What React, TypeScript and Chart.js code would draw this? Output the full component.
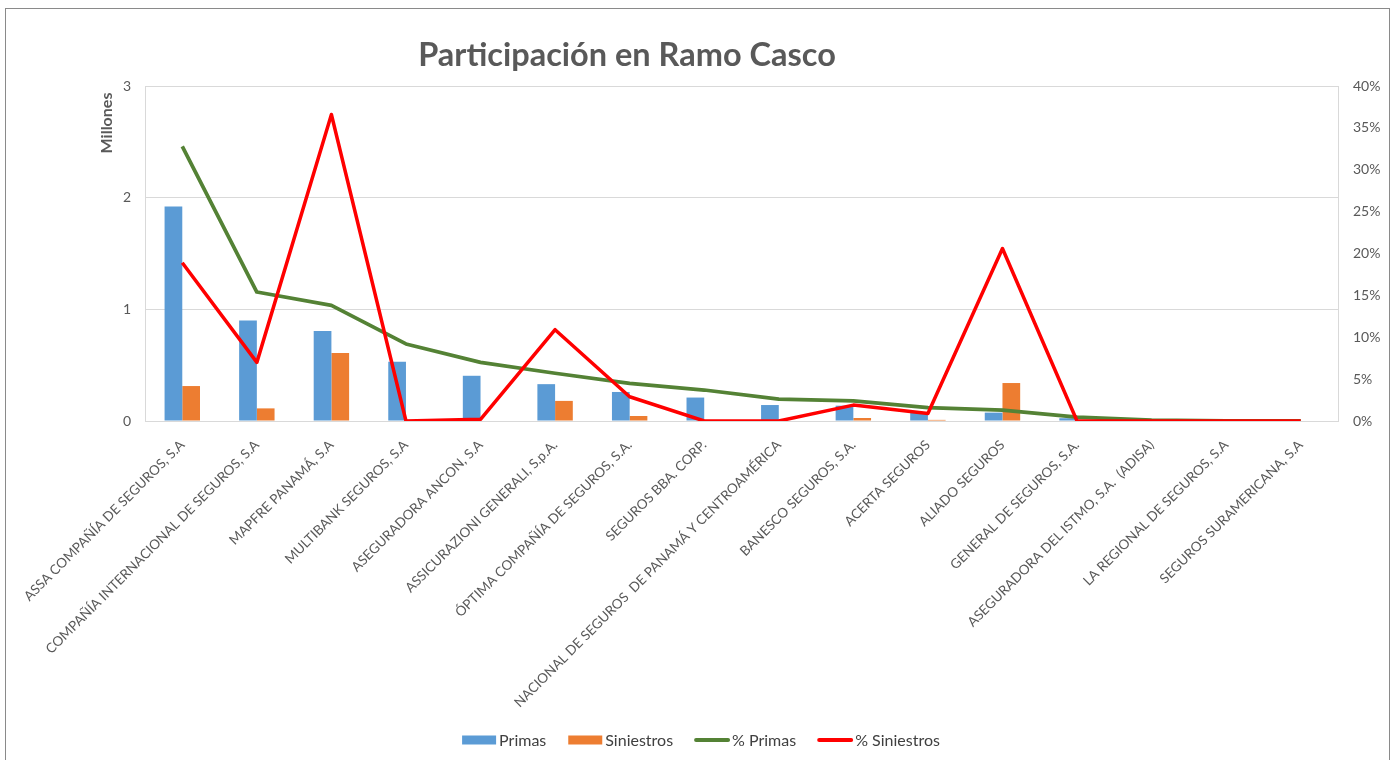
import React, { useEffect, useRef } from "react";
import { Chart, registerables } from "chart.js";

Chart.register(...registerables);

const FONT = "Lato, 'Open Sans', sans-serif";

const TITLE = "Participación en Ramo Casco";
const Y_TITLE = "Millones";

const categories: string[] = [
  "ASSA COMPAÑÍA DE SEGUROS, S.A",
  "COMPAÑÍA INTERNACIONAL DE SEGUROS, S.A",
  "MAPFRE PANAMÁ, S.A",
  "MULTIBANK SEGUROS, S.A",
  "ASEGURADORA ANCON, S.A",
  "ASSICURAZIONI GENERALI, S.p.A.",
  "ÓPTIMA COMPAÑÍA DE SEGUROS, S.A.",
  "SEGUROS BBA. CORP.",
  "NACIONAL DE SEGUROS  DE PANAMÁ Y CENTROAMÉRICA",
  "BANESCO SEGUROS, S.A.",
  "ACERTA SEGUROS",
  "ALIADO SEGUROS",
  "GENERAL DE SEGUROS, S.A.",
  "ASEGURADORA DEL ISTMO, S.A.  (ADISA)",
  "LA REGIONAL DE SEGUROS, S.A",
  "SEGUROS SURAMERICANA, S.A",
];

// Millones
const primas: number[] = [1.92, 0.9, 0.805, 0.53, 0.405, 0.33, 0.26, 0.21, 0.143, 0.137, 0.075, 0.075, 0.025, 0.005, 0.001, 0];
const siniestros: number[] = [0.313, 0.113, 0.61, 0, 0, 0.18, 0.045, 0, 0, 0.027, 0.01, 0.34, 0, 0, 0, 0];
// Porcentajes
const pctPrimas: number[] = [32.8, 15.4, 13.8, 9.2, 7.0, 5.7, 4.5, 3.7, 2.6, 2.4, 1.6, 1.3, 0.45, 0.1, 0.02, 0.01];
const pctSiniestros: number[] = [18.9, 7.0, 36.6, 0, 0.2, 10.9, 2.9, 0, 0, 1.9, 0.9, 20.6, 0, 0, 0, 0];

const leftTicks: number[] = [0, 1, 2, 3];
const rightTicks: number[] = [0, 5, 10, 15, 20, 25, 30, 35, 40];

const overlayPlugin = {
  id: "overlayText",
  afterDraw(chart: any) {
    const ctx: CanvasRenderingContext2D = chart.ctx;
    ctx.save();
    ctx.fillStyle = "#595959";
    ctx.font = `bold 32.5px ${FONT}`;
    ctx.textAlign = "center";
    ctx.textBaseline = "alphabetic";
    ctx.fillText(TITLE, 627, 66);

    ctx.save();
    ctx.translate(107, 123);
    ctx.rotate(-Math.PI / 2);
    ctx.font = `bold 16px ${FONT}`;
    ctx.textBaseline = "middle";
    ctx.fillText(Y_TITLE, 0, 0);
    ctx.restore();

    // legend
    ctx.font = `16px ${FONT}`;
    ctx.textAlign = "left";
    ctx.textBaseline = "middle";
    const ds = chart.data.datasets;
    const items = ds.map((d: any) => ({
      label: d.label,
      isLine: d.type === "line",
      color: d.type === "line" ? d.borderColor : d.backgroundColor,
      w: ctx.measureText(d.label).width,
    }));
    const box = 34, gap = 3, itemGap = 22;
    let total = 0;
    items.forEach((it: any, i: number) => {
      total += box + gap + it.w + (i < items.length - 1 ? itemGap : 0);
    });
    let x = 701 - total / 2;
    const cy = 740;
    items.forEach((it: any) => {
      if (it.isLine) {
        ctx.strokeStyle = it.color;
        ctx.lineWidth = 4;
        ctx.lineCap = "round";
        ctx.beginPath();
        ctx.moveTo(x + 1, cy);
        ctx.lineTo(x + box - 1, cy);
        ctx.stroke();
      } else {
        ctx.fillStyle = it.color;
        ctx.fillRect(x, cy - 4.5, box, 9);
      }
      ctx.fillStyle = "#404040";
      ctx.fillText(it.label, x + box + gap, cy + 1);
      x += box + gap + it.w + itemGap;
    });
    ctx.restore();
  },
};

export default function App() {
  const ref = useRef<HTMLCanvasElement | null>(null);

  useEffect(() => {
    if (!ref.current) return;
    const chart = new Chart(ref.current, {
      type: "bar",
      data: {
        labels: categories,
        datasets: [
          {
            type: "bar",
            label: "Primas",
            data: primas,
            backgroundColor: "#5B9BD5",
            yAxisID: "y",
            order: 2,
            categoryPercentage: 0.475,
            barPercentage: 1,
          },
          {
            type: "bar",
            label: "Siniestros",
            data: siniestros,
            backgroundColor: "#ED7D31",
            yAxisID: "y",
            order: 2,
            categoryPercentage: 0.475,
            barPercentage: 1,
          },
          {
            type: "line",
            label: "% Primas",
            data: pctPrimas,
            borderColor: "#548235",
            backgroundColor: "#548235",
            borderWidth: 3.75,
            pointRadius: 0,
            tension: 0,
            borderJoinStyle: "round",
            yAxisID: "y1",
            order: 1,
          },
          {
            type: "line",
            label: "% Siniestros",
            data: pctSiniestros,
            borderColor: "#FF0000",
            backgroundColor: "#FF0000",
            borderWidth: 3.5,
            pointRadius: 0,
            tension: 0,
            borderJoinStyle: "round",
            yAxisID: "y1",
            order: 0,
          },
        ] as any,
      },
      options: {
        responsive: false,
        animation: false,
        layout: { padding: { left: 95, right: 9, top: 86, bottom: 0 } },
        plugins: {
          legend: { display: false },
          title: { display: false },
          tooltip: { enabled: false },
        },
        scales: {
          x: {
            type: "category",
            offset: true,
            grid: { display: false },
            border: { display: true, color: "#D9D9D9", width: 1 },
            ticks: {
              autoSkip: false,
              minRotation: 45,
              maxRotation: 45,
              padding: 8,
              color: "#595959",
              font: { family: FONT, size: 13.5 },
            },
            afterFit(scale: any) {
              scale.height = 339;
              scale.paddingLeft = 0;
              scale.paddingRight = 0;
            },
          },
          y: {
            position: "left",
            min: 0,
            max: 3,
            afterBuildTicks(scale: any) {
              scale.ticks = leftTicks.map((v) => ({ value: v }));
            },
            grid: { color: "#D9D9D9", drawTicks: false, lineWidth: 1 },
            border: { display: true, color: "#D9D9D9" },
            ticks: {
              padding: 14,
              color: "#595959",
              font: { family: FONT, size: 14 },
            },
            afterFit(scale: any) {
              scale.width = 50;
            },
          },
          y1: {
            position: "right",
            min: 0,
            max: 40,
            afterBuildTicks(scale: any) {
              scale.ticks = rightTicks.map((v) => ({ value: v }));
            },
            grid: { display: false, drawTicks: false },
            border: { display: true, color: "#D9D9D9" },
            ticks: {
              padding: 15,
              color: "#595959",
              font: { family: FONT, size: 14 },
              callback: (v: any) => `${v}%`,
            },
            afterFit(scale: any) {
              scale.width = 50;
            },
          },
        },
      } as any,
      plugins: [overlayPlugin],
    });
    return () => chart.destroy();
  }, []);

  return (
    <div style={{ position: "fixed", left: 0, top: 0, width: 1397, height: 760, overflow: "hidden", background: "#fff" }}>
      <div
        style={{
          position: "absolute",
          left: 5,
          top: 8,
          width: 1385,
          height: 800,
          border: "1px solid #8A8A8A",
          boxSizing: "border-box",
        }}
      />
      <canvas ref={ref} width={1397} height={760} style={{ position: "absolute", left: 0, top: 0, display: "block" }} />
    </div>
  );
}
